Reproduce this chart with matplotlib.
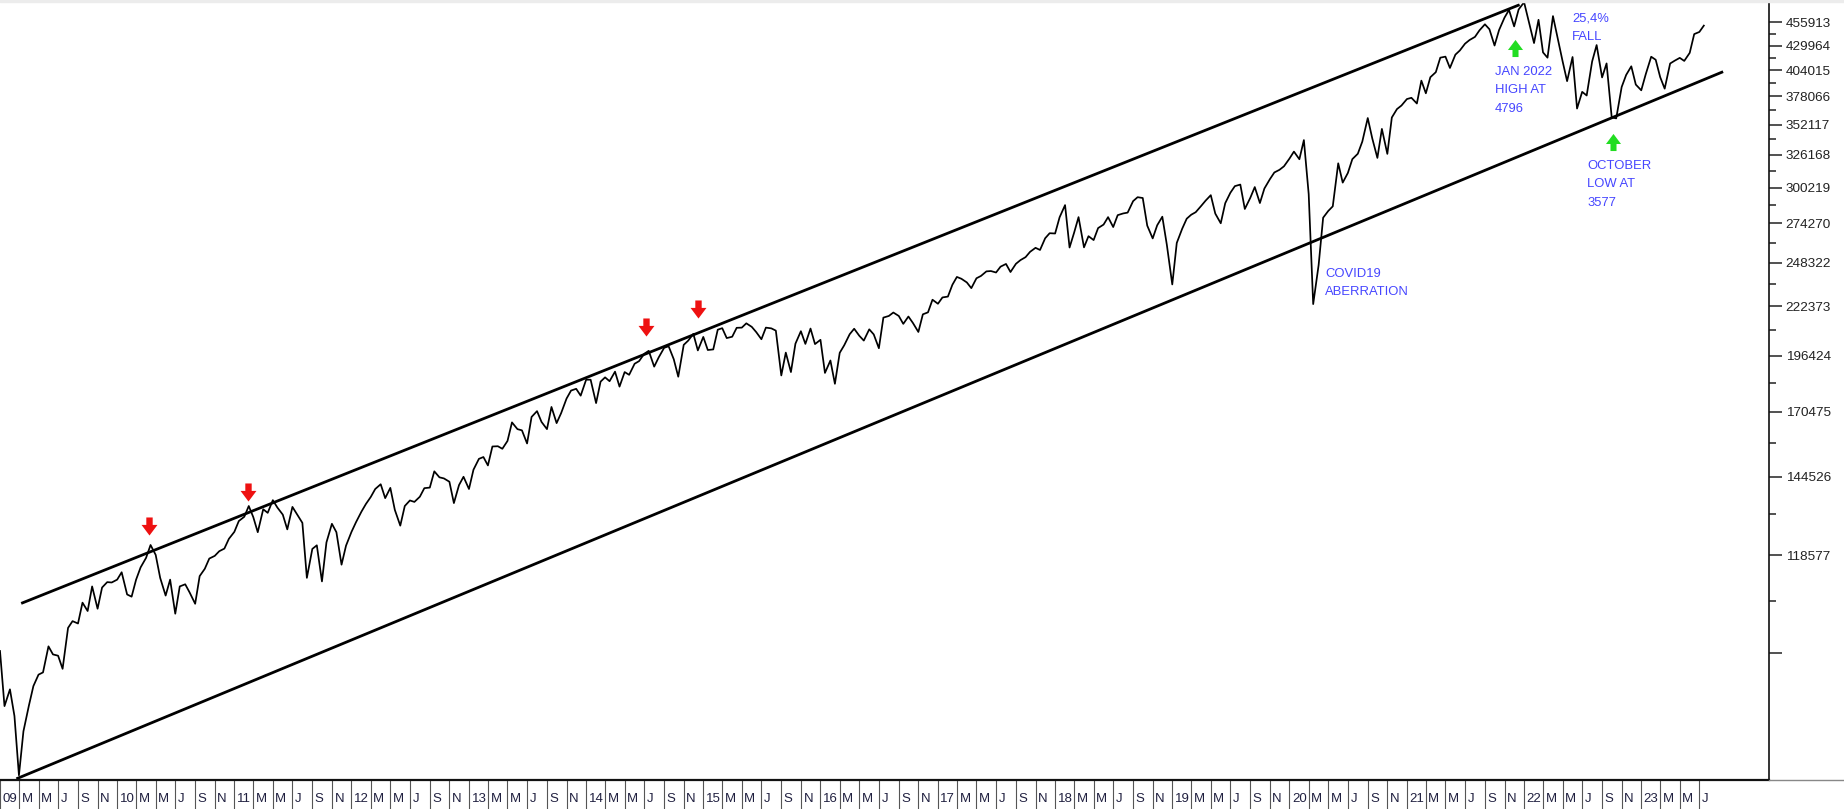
import numpy as np
import pandas as pd
import matplotlib
matplotlib.use('Agg')
import matplotlib.pyplot as plt
import matplotlib.dates as mdates
import matplotlib.transforms as mtransforms
from matplotlib.path import Path
from matplotlib.lines import Line2D
from matplotlib.patches import Rectangle
from matplotlib.ticker import FixedLocator, FixedFormatter, NullFormatter

plt.rcParams['font.family'] = ['Liberation Sans', 'DejaVu Sans']

# S&P 500, index points, sampled on the 1st and 15th of each month
spx_2009 = [931, 810, 845, 790, 680, 760, 811, 852, 877, 882, 942, 923,
            920, 890, 987, 1004, 998, 1052, 1030, 1096, 1036, 1093, 1108, 1107]
spx_2010 = [1115, 1136, 1074, 1068, 1115, 1150, 1178, 1217, 1187, 1120, 1071, 1115,
            1023, 1096, 1102, 1079, 1049, 1125, 1146, 1176, 1184, 1198, 1206, 1236]
spx_2011 = [1258, 1293, 1307, 1343, 1306, 1257, 1332, 1320, 1363, 1338, 1314, 1266,
            1340, 1316, 1287, 1120, 1205, 1216, 1110, 1225, 1284, 1257, 1158, 1215]
spx_2012 = [1258, 1289, 1324, 1350, 1374, 1402, 1419, 1370, 1406, 1330, 1278, 1343,
            1362, 1357, 1375, 1405, 1407, 1466, 1444, 1440, 1428, 1353, 1416, 1446]
spx_2013 = [1402, 1472, 1513, 1520, 1488, 1561, 1562, 1552, 1583, 1659, 1631, 1626,
            1573, 1682, 1707, 1661, 1631, 1725, 1656, 1698, 1762, 1798, 1806, 1775]
spx_2014 = [1848, 1848, 1742, 1839, 1859, 1841, 1886, 1816, 1884, 1871, 1924, 1937,
            1973, 1988, 1910, 1955, 2003, 2011, 1946, 1862, 2018, 2040, 2075, 1990]
spx_2015 = [2059, 1992, 1995, 2097, 2105, 2053, 2060, 2107, 2108, 2131, 2112, 2084,
            2047, 2108, 2104, 2092, 1868, 1979, 1884, 2024, 2089, 2023, 2103, 2022]
spx_2016 = [2044, 1880, 1940, 1829, 1978, 2016, 2073, 2102, 2065, 2040, 2099, 2072,
            2001, 2162, 2171, 2190, 2171, 2128, 2168, 2133, 2085, 2180, 2191, 2262]
spx_2017 = [2239, 2275, 2280, 2349, 2396, 2385, 2363, 2329, 2388, 2402, 2430, 2432,
            2423, 2459, 2476, 2426, 2477, 2500, 2519, 2553, 2579, 2565, 2642, 2676]
spx_2018 = [2674, 2786, 2873, 2581, 2678, 2787, 2582, 2656, 2630, 2711, 2735, 2787,
            2718, 2801, 2813, 2819, 2902, 2931, 2925, 2728, 2641, 2730, 2790, 2600]
spx_2019 = [2351, 2611, 2707, 2776, 2804, 2822, 2867, 2906, 2946, 2812, 2744, 2887,
            2964, 3014, 3026, 2845, 2926, 3007, 2888, 2996, 3067, 3120, 3141, 3169]
spx_2020 = [3231, 3289, 3226, 3386, 2954, 2237, 2470, 2783, 2831, 2864, 3193, 3041,
            3116, 3227, 3271, 3373, 3580, 3401, 3237, 3483, 3270, 3585, 3662, 3695]
spx_2021 = [3756, 3768, 3714, 3935, 3811, 3969, 4020, 4170, 4181, 4063, 4202, 4247,
            4320, 4360, 4395, 4468, 4537, 4481, 4300, 4471, 4614, 4705, 4513, 4710]
spx_2022 = [4797, 4577, 4327, 4589, 4226, 4170, 4632, 4393, 4132, 3930, 4177, 3667,
            3825, 3790, 4130, 4305, 3967, 4110, 3586, 3577, 3872, 3992, 4080, 3896]
spx_2023 = [3840, 3999, 4180, 4148, 3970, 3856, 4109, 4138, 4168, 4136, 4221, 4426,
            4450, 4522]

spx = (spx_2009 + spx_2010 + spx_2011 + spx_2012 + spx_2013 + spx_2014 + spx_2015
       + spx_2016 + spx_2017 + spx_2018 + spx_2019 + spx_2020 + spx_2021 + spx_2022
       + spx_2023)
dates = pd.date_range('2009-01-01', periods=len(spx), freq='SMS')

# hand drawn trend channel
upper_dates = ['2009-03-08', '2021-12-18']
upper_values = [1050, 4767]
lower_dates = ['2009-02-21', '2023-09-13']
lower_values = [674, 4025]

# arrow marks
red_dates = ['2010-04-10', '2011-02-13', '2014-07-05', '2014-12-17']
red_values = [1278, 1393, 2111, 2208]
green_dates = ['2021-12-05', '2022-10-06']
green_values = [4270, 3372]

# notes
notes = ['25,4%\nFALL', 'JAN 2022\nHIGH AT\n4796', 'OCTOBER\nLOW AT\n3577',
         'COVID19\nABERRATION']
note_dates = ['2022-05-30', '2021-10-01', '2022-07-16', '2020-04-22']
note_values = [4670, 4084, 3220, 2452]

# right axis labels (price x 100, as printed)
ytick_labels = [92628, 118577, 144526, 170475, 196424, 222373, 248322, 274270,
                300219, 326168, 352117, 378066, 404015, 429964, 455913]
month_letters = {1: None, 3: 'M', 5: 'M', 7: 'J', 9: 'S', 11: 'N'}

W, H = 1844, 809
fig = plt.figure(figsize=(W / 100, H / 100), dpi=100)
fig.patch.set_facecolor('white')
ax = fig.add_axes([0, 29 / H, 1769 / W, 778 / H])

ax.plot(dates, spx, color='black', lw=1.25)
ax.plot(pd.to_datetime(upper_dates), upper_values, color='black', lw=2.0,
        solid_capstyle='butt')
ax.plot(pd.to_datetime(lower_dates), lower_values, color='black', lw=2.0,
        solid_capstyle='butt')

# block arrows
up = [(0, 8.5), (7.5, -1.5), (3, -1.5), (3, -8.5), (-3, -8.5), (-3, -1.5),
      (-7.5, -1.5), (0, 8.5)]
codes = [Path.MOVETO] + [Path.LINETO] * 6 + [Path.CLOSEPOLY]
up_arrow = Path(up, codes)
down_arrow = Path([(x, -y) for x, y in up], codes)
ax.plot(pd.to_datetime(red_dates), red_values, linestyle='none', marker=down_arrow,
        markersize=13, color='#ee1111', markeredgewidth=0)
ax.plot(pd.to_datetime(green_dates), green_values, linestyle='none', marker=up_arrow,
        markersize=12.3, color='#22dd22', markeredgewidth=0)

for txt, d, v in zip(notes, note_dates, note_values):
    ax.text(pd.Timestamp(d), v, txt, color='#4646ff', fontsize=9.4, ha='left',
            va='top', linespacing=1.7)

ax.set_yscale('log')
ax.set_ylim(672, 4800)
ax.set_xlim(pd.Timestamp('2009-01-01'), pd.Timestamp('2024-02-03'))

ax.yaxis.tick_right()
yt = [v / 100 for v in ytick_labels]
ax.yaxis.set_major_locator(FixedLocator(yt))
ax.yaxis.set_major_formatter(FixedFormatter(
    ['' if v < 100000 else str(v) for v in ytick_labels]))
ax.yaxis.set_minor_locator(FixedLocator([(a + b) / 2 for a, b in zip(yt[:-1], yt[1:])]))
ax.yaxis.set_minor_formatter(NullFormatter())
ax.tick_params(axis='y', which='major', direction='out', length=9.4, width=1.1,
               pad=2.7, labelsize=9.7, labelcolor='#222222', color='#222222')
ax.tick_params(axis='y', which='minor', direction='out', length=5, width=1.1,
               color='#222222')

# bi-monthly separators with labels
tick_dates = pd.date_range('2009-01-01', '2023-07-01', freq='2MS')
ax.set_xticks(tick_dates)
ax.tick_params(axis='x', which='major', direction='out', length=20.9, width=0.8,
               color='#555555', labelbottom=False)
lab_tr = mtransforms.offset_copy(ax.get_xaxis_transform(), x=2.5, y=-18.7, units='dots')
for d in tick_dates:
    lab = d.strftime('%y') if d.month == 1 else month_letters[d.month]
    ax.text(mdates.date2num(d), 0, lab, transform=lab_tr, ha='left', va='center',
            fontsize=9.5, color='#202040', clip_on=False)

for s in ['left', 'top']:
    ax.spines[s].set_visible(False)
ax.spines['bottom'].set_linewidth(1.6)
ax.spines['right'].set_linewidth(1.2)
ax.spines['bottom'].set_color('#111111')
ax.spines['right'].set_color('#111111')

# strip of the cut-off header and the base line running past the axis
fig.patches.append(Rectangle((0, 1 - 2 / H), 1, 2 / H, transform=fig.transFigure,
                             color='#ececec', zorder=0))
fig.lines.append(Line2D([1769 / W, 1], [29 / H, 29 / H], transform=fig.transFigure,
                        color='#888888', lw=1))

fig.savefig('out.png', dpi=100, facecolor='white')
